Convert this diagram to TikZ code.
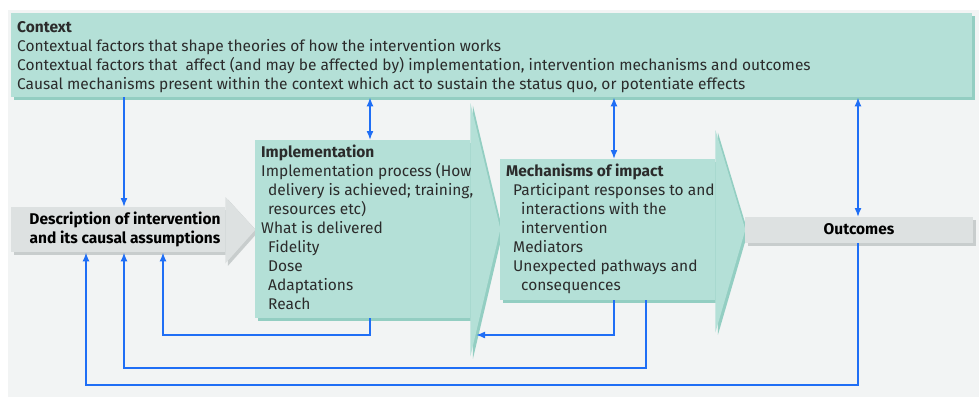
\documentclass[tikz,border=0pt]{standalone}
\usepackage{fontspec}
\setmainfont{Fira Sans}
\usetikzlibrary{positioning, arrows.meta, shadows}

\definecolor{panelgrey}{HTML}{F2F4F4}
\definecolor{tealfill}{HTML}{B4E0D7}
\definecolor{tealshade}{HTML}{93CEC2}
\definecolor{greyfill}{HTML}{DDE1E1}
\definecolor{greyshade}{HTML}{C8CDCD}
\definecolor{linkblue}{HTML}{1F6EF5}
\definecolor{inktext}{HTML}{2B2B2B}

\begin{document}
\begin{tikzpicture}[x=1pt, y=-1pt]
    \tikzset{
        tealbox/.style = {rectangle, anchor=north west, inner sep=0pt, fill=tealfill, drop shadow={shadow xshift=2.5pt, shadow yshift=-2.5pt, fill=tealshade, opacity=1}},
        greybox/.style = {rectangle, anchor=north west, inner sep=0pt, fill=greyfill, drop shadow={shadow xshift=2.5pt, shadow yshift=-2.5pt, fill=greyshade, opacity=1}},
        tealhead/.style = {fill=tealfill, drop shadow={shadow xshift=2.5pt, shadow yshift=-2.5pt, fill=tealshade, opacity=1}},
        greyhead/.style = {fill=greyfill, drop shadow={shadow xshift=2.5pt, shadow yshift=-2.5pt, fill=greyshade, opacity=1}},
        txt/.style = {inner sep=0pt, align=left, text=inktext, font=\fontsize{15.5}{19}\selectfont},
        boldtxt/.style = {txt, text=black, font=\fontsize{15.5}{19}\selectfont\bfseries},
        link/.style = {draw=linkblue, line width=1.6pt, -{Latex[length=9pt, width=7pt]}},
        twoway/.style = {link, {Latex[length=9pt, width=7pt]}-{Latex[length=9pt, width=7pt]}},
    }
    \useasboundingbox (0,0) rectangle (979,397);
    \fill[white] (0,0) rectangle (979,397);
    \fill[panelgrey] (8,10) rectangle (979,397);

    % boxes
    \node[tealbox, minimum width=961pt, minimum height=84pt](ctx) at (11,13){};

    \node[greybox, minimum width=214pt, minimum height=45pt](desc) at (11,207){};
    \path[greyhead] (desc.north east) -- ([yshift=10pt]desc.north east) -- ([xshift=30pt]desc.east)
        -- ([yshift=-11pt]desc.south east) -- (desc.south east) -- cycle;

    \node[tealbox, minimum width=215pt, minimum height=178pt](impl) at (255,140){};
    \path[tealhead] (impl.north east) -- ([yshift=37pt]impl.north east) -- ([xshift=30pt]impl.east)
        -- ([yshift=-38pt]impl.south east) -- (impl.south east) -- cycle;

    \node[tealbox, minimum width=215pt, minimum height=141pt](mech) at (500,159){};
    \path[tealhead] (mech.north east) -- ([yshift=29pt]mech.north east) -- ([xshift=30pt]mech.east)
        -- ([yshift=-32pt]mech.south east) -- (mech.south east) -- cycle;

    \node[greybox, minimum width=228pt, minimum height=26pt](outc) at (745,217){};

    % texts (base is the last line)
    \node[txt, anchor=base west](ctxtext) at (17,89){\textbf{Context}\\
        Contextual factors that shape theories of how the intervention works\\
        Contextual factors that \ affect (and may be affected by) implementation, intervention mechanisms and outcomes\\
        Causal mechanisms present within the context which act to sustain the status quo, or potentiate effects};

    \node[boldtxt, align=center, anchor=base](desctext) at (125,243){Description of intervention\\and its causal assumptions};

    \node[txt, anchor=base west](impltext) at (261,309){\textbf{Implementation}\\
        Implementation process (How\\
        \hspace*{7pt}delivery is achieved; training,\\
        \hspace*{7pt}resources etc)\\
        What is delivered\\
        \hspace*{7pt}Fidelity\\
        \hspace*{7pt}Dose\\
        \hspace*{7pt}Adaptations\\
        \hspace*{7pt}Reach};

    \node[txt, anchor=base west](mechtext) at (506,290){\textbf{Mechanisms of impact}\\
        \hspace*{7pt}Participant responses to and\\
        \hspace*{15pt}interactions with the\\
        \hspace*{15pt}intervention\\
        \hspace*{7pt}Mediators\\
        \hspace*{7pt}Unexpected pathways and\\
        \hspace*{15pt}consequences};

    \node[boldtxt, anchor=base](outctext) at (859,234){Outcomes};

    % columns and rows of the connectors
    \coordinate (colA) at (86,0);
    \coordinate (colB) at (124,0);
    \coordinate (colC) at (163,0);
    \coordinate (colD) at (370,0);
    \coordinate (colE) at (614,0);
    \coordinate (colF) at (646,0);
    \coordinate (colG) at (858,0);
    \coordinate (rowA) at (0,335);
    \coordinate (rowB) at (0,368);
    \coordinate (rowC) at (0,385);
    \coordinate (implback) at (476,335);

    \path [link] (ctx.south -| colB) -- (desc.north -| colB);
    \path [twoway] (ctx.south -| colD) -- (impl.north -| colD);
    \path [twoway] (ctx.south -| colE) -- (mech.north -| colE);
    \path [twoway] (ctx.south -| colG) -- (outc.north -| colG);

    \path [link] (impl.south -| colD) -- (colD |- rowA) -| (desc.south -| colC);
    \path [link] (mech.south -| colE) -- (colE |- rowA) -- (implback);
    \path [link] (mech.south -| colF) -- (colF |- rowB) -| (desc.south -| colB);
    \path [link] (outc.south -| colG) -- (colG |- rowC) -| (desc.south -| colA);

\end{tikzpicture}
\end{document}
